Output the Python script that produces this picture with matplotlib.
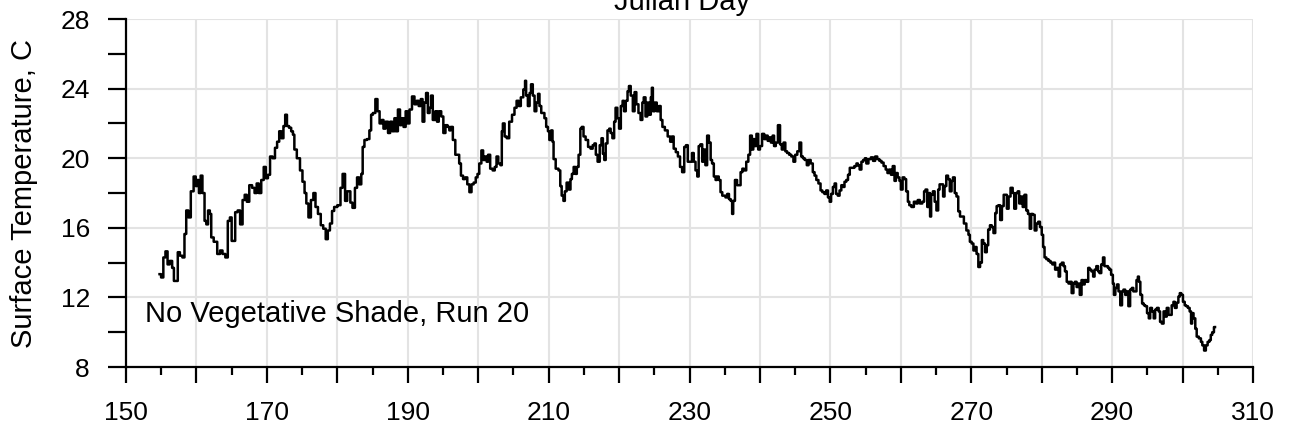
#!/usr/bin/env python3

import numpy as np
import matplotlib.pyplot as plt
from matplotlib.ticker import MultipleLocator, FuncFormatter

# Readings taken off the reference trace (Julian day, surface temperature in C)
julian_day = [
    154.76, 155.2, 155.4, 155.8, 156.0, 156.4, 156.7, 156.9, 157.2, 157.5,
    157.8, 158.2, 158.4, 158.7, 159.0, 159.4, 159.8, 160.0, 160.2, 160.5,
    160.7, 161.0, 161.3, 161.5, 161.8, 162.0, 162.2, 162.7, 163.2, 163.5,
    163.9, 164.3, 164.6, 164.9, 165.1, 165.3, 165.7, 166.0, 166.4, 166.7,
    167.0, 167.3, 167.7, 168.1, 168.4, 168.7, 169.0, 169.4, 169.7, 170.0,
    170.3, 170.6, 171.0, 171.3, 171.6, 171.9, 172.2, 172.5, 172.7, 173.0,
    173.3, 173.6, 173.8, 174.0, 174.5, 174.9, 175.2, 175.5, 175.7, 176.1,
    176.4, 176.8, 177.0, 177.5, 177.8, 178.2, 178.5, 178.8, 179.1,
    179.4, 179.7, 180.3, 180.6, 180.9, 181.3, 181.5, 181.7, 182.0, 182.3,
    182.7, 182.9, 183.3, 183.5, 183.7, 184.0, 184.4, 184.7, 184.9, 185.2,
    185.6, 185.8, 186.2, 186.4, 186.7, 187.0, 187.4, 187.6, 188.0, 188.2,
    188.4, 188.8, 189.0, 189.2, 189.6, 189.8, 190.1, 190.4, 190.8, 191.1,
    191.4, 191.7, 192.0, 192.2, 192.5, 192.7, 193.0, 193.2, 193.4, 193.7,
    194.1, 194.2, 194.6, 194.9, 195.2, 195.5, 195.8, 196.0, 196.2, 196.6,
    196.9, 197.2, 197.4, 197.7, 198.0, 198.3, 198.6, 198.9, 199.2, 199.5,
    199.8, 200.0, 200.3, 200.6, 200.8, 201.1, 201.3, 201.5, 201.9, 202.2,
    202.5, 202.7, 203.0, 203.3, 203.4, 203.6, 203.9, 204.2,
    204.6, 205.0, 205.3, 205.6, 205.9, 206.2, 206.6, 206.7, 206.9, 207.2,
    207.4, 207.6, 207.9, 208.1, 208.4, 208.6, 208.8, 209.1, 209.3, 209.5,
    209.8, 210.0, 210.2, 210.5, 210.6, 210.8, 211.2, 211.6, 211.7, 212.0,
    212.2, 212.4, 212.7, 213.0, 213.2, 213.4, 213.7, 213.9, 214.1, 214.4,
    214.6, 214.8, 215.1, 215.4, 215.8, 216.1, 216.4, 216.6, 216.8, 217.1,
    217.4, 217.6, 217.8, 218.0, 218.2, 218.5, 218.7, 218.9, 219.2, 219.4,
    219.6, 219.9, 220.1, 220.4, 220.6, 220.8, 221.1, 221.3, 221.5, 221.8,
    222.1, 222.3, 222.6, 222.9, 223.2, 223.4, 223.6, 223.9, 224.1, 224.4,
    224.6, 224.7, 224.9, 225.2, 225.5, 225.8, 226.0, 226.3, 226.7, 227.1,
    227.4, 227.6, 227.9, 228.2, 228.5, 228.8, 229.1, 229.4, 229.6, 229.9,
    230.2, 230.5, 230.7, 231.0, 231.2, 231.4, 231.7, 231.9, 232.1, 232.4,
    232.6, 232.9, 233.1, 233.3, 233.6, 233.8, 234.0, 234.3, 234.5, 234.8,
    235.0, 235.2, 235.5, 235.7, 236.0, 236.1, 236.3, 236.6, 236.9, 237.1,
    237.4, 237.6, 237.9, 238.2, 238.5, 238.7, 239.0, 239.1, 239.4, 239.6,
    239.9, 240.1, 240.5, 240.7, 241.0, 241.2, 241.4, 241.7, 241.9, 242.1,
    242.4, 242.7, 243.0, 243.2, 243.5, 243.7, 244.0, 244.3, 244.6, 244.9,
    245.1, 245.5, 245.7, 246.0, 246.2, 246.5, 246.8, 247.0, 247.4, 247.6,
    247.9, 248.1, 248.5, 248.7, 249.0, 249.3, 249.5, 249.8, 250.0, 250.2,
    250.5, 250.7, 250.9, 251.2, 251.4, 251.7, 251.9, 252.1, 252.4, 252.6,
    252.9, 253.2, 253.6, 253.8, 254.0, 254.3, 254.5, 254.8, 255.0, 255.2,
    255.6, 255.9, 256.2, 256.5, 256.8, 257.1, 257.4, 257.7, 258.0, 258.2,
    258.5, 258.7, 259.0, 259.2, 259.4, 259.7, 259.9, 260.1, 260.4, 260.6,
    260.9, 261.1, 261.3, 261.7, 262.0, 262.3, 262.5, 262.9, 263.2, 263.4,
    263.6, 263.9, 264.1, 264.2, 264.4, 264.7, 264.9, 265.2, 265.4, 265.6,
    265.9, 266.1, 266.3, 266.6, 266.8, 267.1, 267.3, 267.5, 267.8, 268.0,
    268.3, 268.5, 268.8, 269.1, 269.5, 269.7, 269.9, 270.2, 270.4, 270.6,
    270.9, 271.1, 271.4, 271.6, 271.8, 272.1, 272.3, 272.5, 272.8, 273.0,
    273.3, 273.5, 273.7, 274.0, 274.2, 274.5, 274.7, 274.9, 275.2, 275.4,
    275.75, 276.0, 276.2, 276.5, 276.7, 276.9, 277.2, 277.4, 277.7, 277.9,
    278.2, 278.4, 278.6, 278.9, 279.1, 279.4, 279.6, 279.9, 280.1, 280.3,
    280.5, 280.8, 281.1, 281.4,
    281.6, 281.8, 282.0, 282.3, 282.5, 282.7, 283.0, 283.2, 283.4, 283.7,
    283.9, 284.1, 284.4, 284.6, 284.8, 285.1, 285.3, 285.5, 285.8, 286.0,
    286.2, 286.5, 286.7, 286.9, 287.2, 287.4, 287.6, 287.9, 288.1, 288.3,
    288.6, 288.8, 289.0, 289.3, 289.5, 289.7, 290.0, 290.2, 290.3, 290.6,
    290.8, 291.0, 291.3, 291.5, 291.7, 292.0, 292.2, 292.4, 292.7, 292.9,
    293.1, 293.3, 293.6, 293.7, 293.9, 294.1, 294.4, 294.6, 294.8, 295.1,
    295.3, 295.5, 295.8, 296.0, 296.2, 296.5, 296.7, 296.9, 297.2, 297.4,
    297.6, 297.9, 298.1, 298.3, 298.6, 298.8, 299.0, 299.3, 299.5, 299.7,
    299.9, 300.2, 300.4, 300.6, 300.9, 301.1, 301.3, 301.4, 301.7, 301.9,
    302.1, 302.5, 302.7, 302.9, 303.2, 303.4, 303.7, 303.9, 304.1, 304.3,
    304.6,
]

surface_temp = [
    13.34, 13.15, 14.3, 14.65, 13.9, 14.1, 13.7, 12.95, 12.95, 14.6,
    14.4, 14.3, 15.65, 17.0, 16.6, 18.1, 18.95, 18.4, 18.75, 18.0,
    19.0, 18.0, 16.4, 16.2, 17.0, 16.8, 15.45, 15.2, 14.5, 14.7,
    14.5, 14.3, 16.4, 16.6, 15.25, 15.25, 16.9, 17.0, 16.2, 17.6,
    17.9, 17.5, 18.45, 18.3, 18.0, 18.55, 18.0, 18.75, 19.5, 18.85,
    19.05, 20.1, 20.0, 20.6, 20.95, 21.55, 21.15, 21.85, 22.5, 21.85,
    21.75, 21.55, 21.35, 20.5, 20.0, 19.3, 18.65, 18.0, 17.4, 16.6,
    17.6, 18.0, 17.2, 16.8, 16.15, 15.95, 15.35, 15.85, 16.25,
    16.97, 17.2, 17.3, 18.3, 19.1, 17.55, 18.1, 18.1, 17.45, 17.15,
    18.3, 18.9, 18.5, 19.1, 20.65, 21.05, 21.1, 21.6, 22.5, 22.6,
    23.4, 22.7, 22.0, 22.2, 21.7, 22.1, 21.45, 22.1, 21.55, 22.3,
    21.55, 22.8, 21.9, 22.3, 21.8, 22.7, 22.0, 22.8, 23.55, 23.1,
    23.3, 23.0, 23.4, 22.1, 23.2, 23.75, 22.6, 22.9, 23.6, 22.2,
    22.7, 22.1, 22.7, 22.4, 21.45, 21.9, 21.8, 21.6, 21.8, 21.05,
    20.2, 20.2, 19.7, 19.0, 18.8, 18.9, 18.5, 18.05, 18.5, 18.6,
    18.9, 19.1, 19.7, 20.45, 19.9, 20.1, 19.8, 20.2, 19.4, 19.3,
    19.5, 20.1, 19.7, 19.6, 21.55, 22.0, 21.25, 21.15,
    22.1, 22.5, 22.9, 23.3, 23.0, 23.5, 23.95, 24.45, 23.6, 23.0,
    23.75, 24.25, 23.6, 22.7, 23.2, 23.7, 23.0, 22.6, 22.6, 22.3,
    21.8, 21.55, 21.05, 21.6, 20.95, 19.95, 19.4, 19.3, 18.4, 17.85,
    17.55, 18.1, 18.6, 18.2, 18.8, 19.1, 19.5, 19.1, 19.5, 20.2,
    21.7, 21.8, 21.25, 21.05, 20.65, 20.55, 20.75, 20.85, 20.2, 19.8,
    20.75, 21.15, 20.25, 19.9, 20.85, 21.6, 21.7, 21.45, 21.15, 22.1,
    22.9, 22.3, 21.7, 23.0, 23.3, 22.7, 23.3, 23.85, 24.15, 23.6,
    22.7, 23.8, 23.1, 22.6, 22.2, 23.2, 23.5, 22.4, 23.2, 22.5,
    23.5, 24.05, 22.7, 23.2, 22.7, 23.0, 22.2, 21.8, 21.6, 21.25,
    20.95, 21.25, 20.55, 20.35, 20.1, 19.5, 19.2, 20.65, 20.75, 19.8,
    19.8, 20.3, 19.8, 19.3, 18.95, 20.7, 20.8, 19.8, 20.5, 19.6,
    21.3, 20.9, 19.9, 19.7, 18.95, 18.75, 18.95, 18.75, 18.05, 17.85,
    17.85, 17.75, 17.95, 17.65, 17.55, 16.8, 17.55, 18.75, 18.45, 18.45,
    19.2, 19.4, 19.3, 19.8, 20.2, 21.3, 20.5, 21.1, 20.7, 21.4,
    20.5, 20.7, 21.4, 21.1, 21.3, 21.0, 21.2, 20.9, 21.3, 20.7,
    20.9, 21.9, 20.8, 20.5, 20.9, 20.4, 20.3, 20.2, 20.1, 19.8,
    20.2, 20.4, 20.9, 20.1, 20.0, 19.9, 19.6, 19.9, 19.7, 19.2,
    19.0, 18.75, 18.55, 18.15, 18.05, 17.95, 18.15, 17.75, 17.5, 17.95,
    18.35, 18.55, 17.95, 17.85, 18.15, 18.45, 18.35, 18.65, 18.75, 19.05,
    19.45, 19.45, 19.55, 19.7, 19.6, 19.35, 19.8, 19.9, 20.0, 19.7,
    19.95, 20.05, 19.85, 20.1, 19.95, 19.85, 19.75, 19.55, 19.35, 19.15,
    19.35, 19.05, 19.55, 18.7, 19.15, 18.9, 18.7, 18.2, 18.9, 18.8,
    18.1, 17.5, 17.3, 17.2, 17.5, 17.4, 17.6, 17.4, 17.5, 18.1,
    18.2, 17.2, 18.0, 16.65, 17.9, 18.1, 17.5, 17.0, 18.2, 18.5,
    18.5, 17.8, 18.4, 19.0, 18.8, 18.1, 18.7, 18.9, 18.0, 17.8,
    16.95, 16.65, 16.65, 16.25, 15.85, 15.6, 15.2, 15.1, 14.7, 14.9,
    14.5, 13.75, 14.0, 15.3, 15.1, 14.6, 15.0, 15.9, 16.15, 16.05,
    15.7, 16.85, 17.25, 17.3, 16.45, 17.25, 17.9, 17.9, 17.1, 17.8,
    18.3, 18.0, 17.1, 18.0, 18.1, 17.4, 17.8, 17.2, 17.9, 17.0,
    16.8, 15.95, 16.8, 16.75, 15.85, 16.25, 16.35, 16.05, 15.6, 14.9,
    14.3, 14.2, 14.1, 14.0,
    13.9, 14.0, 13.6, 13.7, 13.2, 13.9, 14.0, 13.8, 13.5, 12.9,
    12.8, 12.9, 12.25, 12.8, 12.9, 12.6, 12.8, 12.15, 13.0, 12.75,
    13.0, 12.9, 13.7, 13.6, 13.5, 13.2, 13.6, 13.8, 13.5, 13.4,
    13.9, 14.3, 13.8, 13.8, 13.7, 13.6, 13.3, 12.8, 12.15, 12.55,
    12.75, 12.35, 11.55, 12.35, 12.45, 12.15, 12.35, 11.5, 12.45, 12.55,
    12.35, 12.35, 13.0, 13.2, 12.9, 12.15, 11.65, 11.55, 11.5, 11.1,
    10.8, 11.4, 11.2, 10.8, 11.3, 11.4, 11.2, 10.6, 10.5, 11.2,
    10.9, 11.4, 11.0, 11.0, 11.55, 11.75, 11.4, 11.7, 12.05, 12.25,
    12.15, 11.75, 11.55, 11.5, 11.4, 11.2, 10.5, 11.1, 10.8, 10.2,
    9.75, 9.65, 9.45, 9.25, 8.95, 9.25, 9.45, 9.55, 9.85, 10.0,
    10.3,
]

x_ticks_labelled = [150, 170, 190, 210, 230, 250, 270, 290, 310]

plt.rcParams["font.family"] = ["Liberation Sans", "DejaVu Sans"]

fig = plt.figure(figsize=(12.91, 4.37), dpi=100)
ax = fig.add_axes([0.0976, 0.160, 0.8730, 0.7965])

ax.plot(julian_day, surface_temp, color="black", linewidth=1.8,
        drawstyle="steps-mid")

ax.set_xlim(150, 310)
ax.set_ylim(8, 28)

ax.xaxis.set_major_locator(MultipleLocator(10))
ax.xaxis.set_minor_locator(MultipleLocator(5))
ax.xaxis.set_major_formatter(
    FuncFormatter(lambda v, p: f"{v:.0f}" if round(v) in x_ticks_labelled else "")
)
ax.yaxis.set_major_locator(MultipleLocator(4))
ax.yaxis.set_minor_locator(MultipleLocator(2))

ax.grid(True, which="major", color="#e3e3e3", linewidth=1.5, zorder=0)
ax.set_axisbelow(True)

for side in ["top", "right"]:
    ax.spines[side].set_visible(False)
for side in ["left", "bottom"]:
    ax.spines[side].set_linewidth(1.6)

ax.tick_params(axis="x", which="major", direction="out", length=11.5, width=1.6,
               labelsize=19, pad=13)
ax.tick_params(axis="x", which="minor", direction="out", length=6, width=1.6)
ax.tick_params(axis="y", which="both", direction="out", length=13, width=1.6,
               labelsize=19, pad=13)

ax.set_ylabel("Surface Temperature, C", fontsize=21, labelpad=16)
fig.text(0.528, 0.977, "Julian Day", ha="center", va="baseline", fontsize=21)
ax.text(152.7, 10.6, "No Vegetative Shade, Run 20", fontsize=21, va="baseline")

fig.savefig("out.png", dpi=100)
